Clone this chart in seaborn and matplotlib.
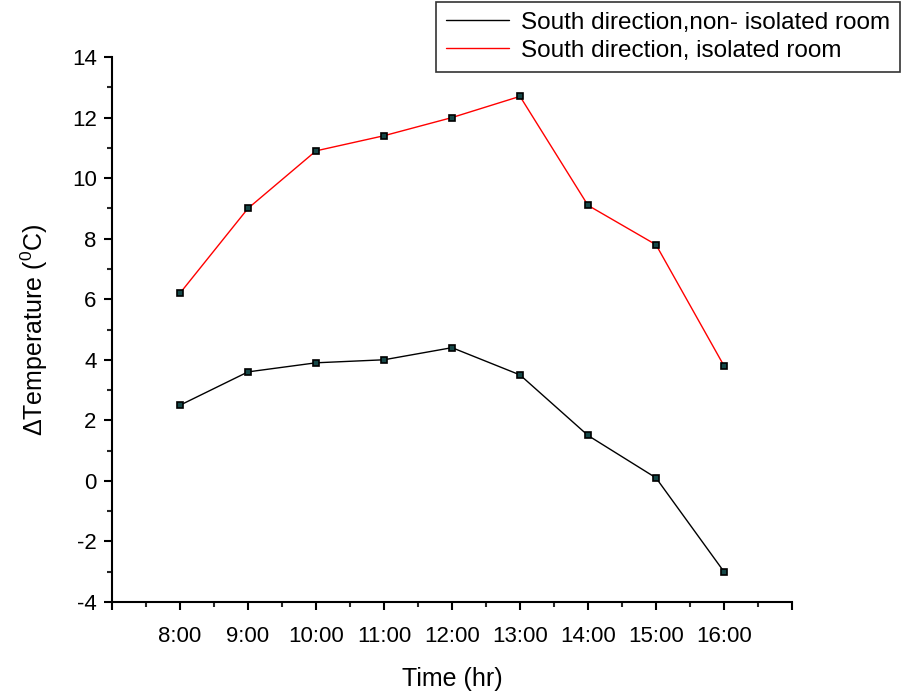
import matplotlib
matplotlib.use("Agg")
import matplotlib.pyplot as plt
from matplotlib.lines import Line2D
from matplotlib.ticker import MultipleLocator, FixedLocator
import seaborn as sns
import pandas as pd

hours = ["8:00", "9:00", "10:00", "11:00", "12:00", "13:00", "14:00", "15:00", "16:00"]
non_isolated = [2.5, 3.6, 3.9, 4.0, 4.4, 3.5, 1.5, 0.1, -3.0]
isolated = [6.2, 9.0, 10.9, 11.4, 12.0, 12.7, 9.1, 7.8, 3.8]
series_names = ["South direction,non- isolated room", "South direction, isolated room"]
series_colors = ["black", "red"]

pos = list(range(len(hours)))
df = pd.concat([
    pd.DataFrame({"pos": pos, "dT": non_isolated, "series": series_names[0]}),
    pd.DataFrame({"pos": pos, "dT": isolated, "series": series_names[1]}),
])

sns.set_style("ticks")
plt.rcParams["font.family"] = ["Liberation Sans", "DejaVu Sans"]
plt.rcParams["mathtext.fontset"] = "custom"
plt.rcParams["mathtext.rm"] = "Liberation Sans"
plt.rcParams["axes.unicode_minus"] = False
plt.rcParams["text.color"] = "black"
plt.rcParams["axes.labelcolor"] = "black"

fig = plt.figure(figsize=(9.03, 6.93), dpi=100)
ax = fig.add_axes([112 / 903, 1 - 602 / 693, (792 - 112) / 903, (602 - 57) / 693])

sns.lineplot(data=df, x="pos", y="dT", hue="series", palette=series_colors,
             hue_order=series_names, ax=ax, linewidth=1.0, marker="s",
             markersize=4.5, markerfacecolor="#164848", markeredgecolor="black",
             markeredgewidth=1.2, legend=False)

ax.set_xlim(-1, 9)
ax.set_ylim(-4, 14)
ax.xaxis.set_major_locator(FixedLocator(list(range(-1, 10))))
ax.set_xticklabels([""] + hours + [""])
ax.xaxis.set_minor_locator(MultipleLocator(0.5))
ax.yaxis.set_major_locator(MultipleLocator(2))
ax.yaxis.set_minor_locator(MultipleLocator(1))

for s in ["top", "right"]:
    ax.spines[s].set_visible(False)
for s in ["left", "bottom"]:
    ax.spines[s].set_linewidth(1.5)
    ax.spines[s].set_color("black")

ax.tick_params(which="major", direction="out", length=6, width=1.5, labelsize=16,
               colors="black", pad=5)
ax.tick_params(axis="x", which="major", pad=11)
ax.tick_params(which="minor", direction="out", length=3.5, width=1.5)

ax.set_xlabel("Time (hr)", fontsize=18, labelpad=15)
ax.set_ylabel("ΔTemperature ($\\mathregular{^0}$C)", fontsize=18, labelpad=16)

handles = [Line2D([0], [0], color=c, lw=1.0) for c in series_colors]
leg = fig.legend(handles, series_names, loc="upper right",
                 bbox_to_anchor=(0.997, 0.997), fontsize=17.5, frameon=True,
                 fancybox=False, edgecolor="#333333", framealpha=1,
                 handlelength=2.6, borderpad=0.4, labelspacing=0.25,
                 handletextpad=0.5, borderaxespad=0.0)
leg.get_frame().set_linewidth(1.2)

fig.savefig("out.png", dpi=100)
